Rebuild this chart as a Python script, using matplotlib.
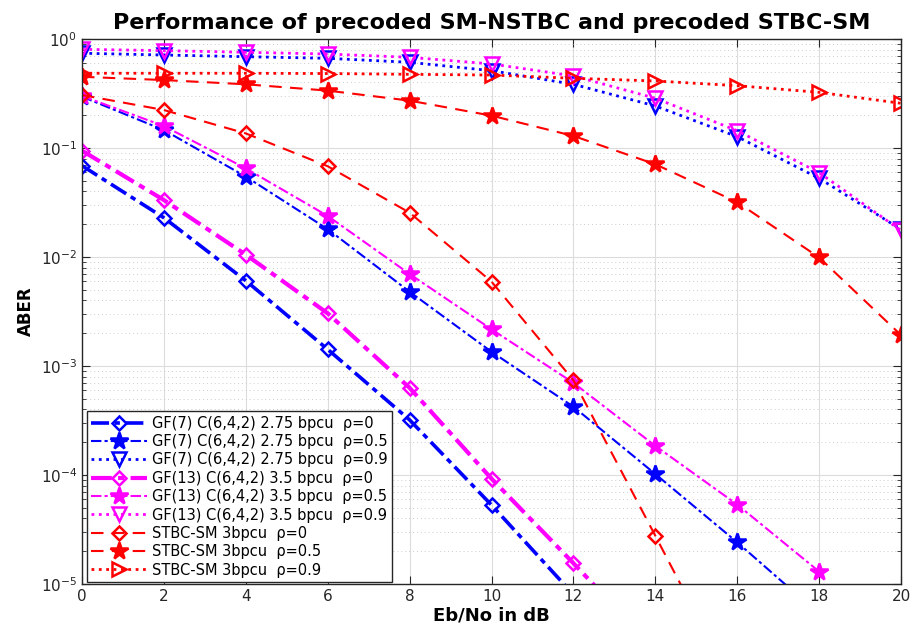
import matplotlib
matplotlib.use("Agg")
import matplotlib.pyplot as plt
from matplotlib.ticker import LogLocator, NullFormatter, MultipleLocator

plt.rcParams['font.family'] = ['DejaVu Sans']
plt.rcParams['mathtext.fontset'] = 'custom'
plt.rcParams['mathtext.rm'] = 'DejaVu Sans'
plt.rcParams['mathtext.it'] = 'DejaVu Serif:italic'

snr = [0, 2, 4, 6, 8, 10, 12, 14, 16, 18, 20]

gf7_r0 = [0.0688, 0.0229, 0.00606, 0.00142, 3.2e-4, 5.3e-5, 8.0e-6]
gf7_r05 = [0.296, 0.146, 0.0546, 0.0180, 0.0048, 0.00135, 4.23e-4, 1.02e-4, 2.41e-5, 5.3e-6]
gf7_r09 = [0.74, 0.713, 0.688, 0.665, 0.611, 0.512, 0.384, 0.243, 0.127, 0.0527, 0.0179]
gf13_r0 = [0.0945, 0.0333, 0.0105, 0.00304, 6.3e-4, 9.25e-5, 1.55e-5, 2.5e-6]
gf13_r05 = [0.30, 0.159, 0.065, 0.0238, 0.00698, 0.00217, 7.0e-4, 1.85e-4, 5.35e-5, 1.3e-5]
gf13_r09 = [0.804, 0.782, 0.755, 0.728, 0.679, 0.59, 0.458, 0.286, 0.144, 0.0594, 0.0175]
stbc_r0 = [0.306, 0.223, 0.136, 0.068, 0.0255, 0.00594, 7.4e-4, 2.77e-5, 1.0e-6]
stbc_r05 = [0.45, 0.42, 0.384, 0.336, 0.272, 0.198, 0.129, 0.0709, 0.0318, 0.0099, 0.00192]
stbc_r09 = [0.485, 0.485, 0.485, 0.482, 0.474, 0.467, 0.436, 0.412, 0.373, 0.324, 0.257]

labels = [
    'GF(7) C(6,4,2) 2.75 bpcu  ρ=0',
    'GF(7) C(6,4,2) 2.75 bpcu  ρ=0.5',
    'GF(7) C(6,4,2) 2.75 bpcu  ρ=0.9',
    'GF(13) C(6,4,2) 3.5 bpcu  ρ=0',
    'GF(13) C(6,4,2) 3.5 bpcu  ρ=0.5',
    'GF(13) C(6,4,2) 3.5 bpcu  ρ=0.9',
    'STBC-SM 3bpcu  ρ=0',
    'STBC-SM 3bpcu  ρ=0.5',
    'STBC-SM 3bpcu  ρ=0.9',
]

fig = plt.figure(figsize=(9.14, 6.36), dpi=100)
ax = fig.add_axes([0.0897, 0.0818, 0.8961, 0.8569])

dashdot = (0, (5, 1.5, 1.5, 1.5))
series = [
    (gf7_r0, 'blue', dashdot, 'D', 'none', 2.6, 7),
    (gf7_r05, 'blue', dashdot, '*', 'blue', 1.5, 13),
    (gf7_r09, 'blue', ':', 'v', 'none', 2.0, 10),
    (gf13_r0, 'magenta', dashdot, 'D', 'none', 3.0, 7),
    (gf13_r05, 'magenta', dashdot, '*', 'magenta', 1.5, 13),
    (gf13_r09, 'magenta', ':', 'v', 'none', 2.0, 10),
    (stbc_r0, 'red', (0, (6, 4)), 'D', 'none', 1.5, 7),
    (stbc_r05, 'red', (0, (6, 4)), '*', 'red', 1.5, 13),
    (stbc_r09, 'red', ':', '>', 'none', 2.0, 10),
]

for (vals, c, ls, mk, mfc, lw, ms), lab in zip(series, labels):
    ax.semilogy(snr[:len(vals)], vals, color=c, linestyle=ls, marker=mk,
                markerfacecolor=mfc, markeredgecolor=c, markeredgewidth=1.8,
                linewidth=lw, markersize=ms, label=lab)

ax.set_xlim(0, 20)
ax.set_ylim(1e-5, 1)
ax.xaxis.set_major_locator(MultipleLocator(2))
ax.yaxis.set_major_locator(LogLocator(base=10, numticks=10))
ax.yaxis.set_minor_locator(LogLocator(base=10, subs=range(2, 10), numticks=20))
ax.yaxis.set_minor_formatter(NullFormatter())

ax.grid(True, which='major', color='#dcdcdc', linestyle='-', linewidth=0.8)
ax.grid(True, which='minor', axis='y', color='#cccccc', linestyle=(0, (1, 3)), linewidth=0.7)
ax.set_axisbelow(True)

ax.tick_params(which='both', direction='in', top=True, right=True, labelsize=11, colors='#262626')
ax.tick_params(which='major', length=6)
ax.tick_params(which='minor', length=3)
for s in ax.spines.values():
    s.set_color('#262626')
    s.set_linewidth(1.0)

ax.set_title('Performance of precoded SM-NSTBC and precoded STBC-SM',
             fontsize=16, fontweight='bold', pad=7)
ax.set_xlabel('Eb/No in dB', fontsize=13, fontweight='bold', labelpad=2)
ax.set_ylabel('ABER', fontsize=12, fontweight='bold', labelpad=4)

leg = ax.legend(loc='lower left', bbox_to_anchor=(5 / 819, 2 / 545),
                borderaxespad=0, fontsize=10.5, frameon=True, fancybox=False,
                edgecolor='#262626', framealpha=1, borderpad=0.3,
                labelspacing=0.23, handlelength=3.8, handletextpad=0.35)
leg.get_frame().set_linewidth(1.0)

fig.savefig('out.png', dpi=100)
